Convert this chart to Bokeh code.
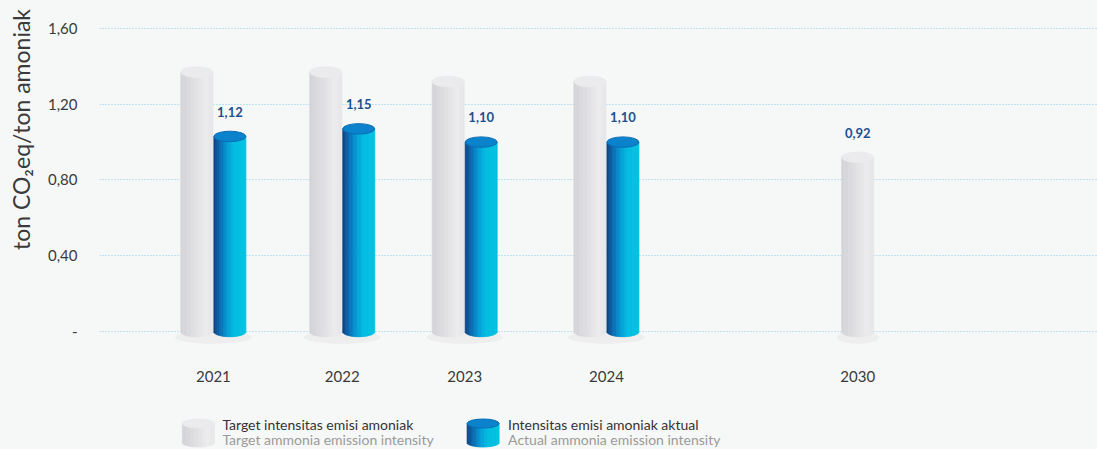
import math
from bokeh.plotting import figure
from bokeh.models import Range1d, FixedTicker
from bokeh.layouts import column, row
from bokeh.core.properties import value
from bokeh.embed import file_html
from bokeh.resources import INLINE

# ---------------- data ----------------
years = ["2021", "2022", "2023", "2024", "2030"]
target_values = [1.37, 1.37, 1.32, 1.32, 0.92]          # grey cylinders (as drawn)
actual_years = ["2021", "2022", "2023", "2024"]
actual_values = [1.03, 1.07, 1.00, 1.00]                 # blue cylinders (as drawn)
actual_labels = [1.12, 1.15, 1.10, 1.10]                 # printed values
target_label_years = ["2030"]
target_labels = [0.92]
y_ticks = [0.0, 0.4, 0.8, 1.2, 1.6]
y_tick_labels = ["-", "0,40", "0,80", "1,20", "1,60"]
y_title = "ton CO\u2082eq/ton amoniak"
legend_main = ["Target intensitas emisi amoniak", "Intensitas emisi amoniak aktual"]
legend_sub = ["Target ammonia emission intensity", "Actual ammonia emission intensity"]

# ---------------- layout constants ----------------
slot = {"2021": 0.0, "2022": 1.0, "2023": 1.95, "2024": 3.05, "2030": 5.0}
FONT = "Lato"
BG = "#f6f8f7"
W_TOTAL, H_MAIN, H_LEG = 1097, 396, 53
W_Y = 44
W = W_TOTAL - W_Y
LEFT = 98
BL = LEFT - W_Y
UNIT_X = 129.0
UNIT_Y = 189.4
ZERO_Y = 331
X0 = -(212 - LEFT) / UNIT_X
BAR_W = 0.248
OFFSET = 0.128
ELL_H = 0.055
N_STRIPS = 24

def hex2rgb(h):
    h = h.lstrip("#")
    return tuple(int(h[i:i + 2], 16) for i in (0, 2, 4))

def grad(stops, t):
    for (t0, c0), (t1, c1) in zip(stops, stops[1:]):
        if t0 <= t <= t1:
            f = 0 if t1 == t0 else (t - t0) / (t1 - t0)
            a, b = hex2rgb(c0), hex2rgb(c1)
            return "#%02x%02x%02x" % tuple(round(a[i] + (b[i] - a[i]) * f) for i in range(3))
    return stops[-1][1]

GREY_STOPS = [(0, "#d3d3d7"), (0.35, "#dddde0"), (0.8, "#ececee"), (1, "#e6e6e8")]
BLUE_STOPS = [(0, "#0c3f7e"), (0.18, "#0b66ad"), (0.45, "#049fd8"), (0.65, "#00bce0"), (1, "#00c2e2")]
GREY_TOP, BLUE_TOP = "#ebebed", "#0a82cc"
BLUE_RIM = "#0a6db5"

def cylinder(fig, xc, top, bottom, width, ell_h, stops, top_color, rim=None):
    a = width / 2.0
    b = ell_h / 2.0
    L, R, B, T, C = [], [], [], [], []
    for i in range(N_STRIPS):
        x0 = -a + width * i / N_STRIPS
        x1 = -a + width * (i + 1) / N_STRIPS
        xm = (x0 + x1) / 2.0
        drop = b * math.sqrt(max(0.0, 1 - (xm / a) ** 2))
        L.append(xc + x0)
        R.append(xc + x1)
        B.append(bottom - drop)
        T.append(top)
        C.append(grad(stops, (i + 0.5) / N_STRIPS))
    fig.quad(left=L, right=R, bottom=B, top=T, fill_color=C, line_color=C, line_width=0.8)
    fig.ellipse(x=[xc], y=[top], width=width, height=ell_h,
                fill_color=top_color, line_color=rim if rim else top_color, line_width=1)

# ---------------- main figure ----------------
p = figure(width=W, height=H_MAIN, output_backend="svg", toolbar_location=None,
           x_range=Range1d(X0, X0 + (W_TOTAL - LEFT) / UNIT_X),
           y_range=Range1d(-(346 - ZERO_Y) / UNIT_Y, (ZERO_Y - 13) / UNIT_Y),
           min_border_left=BL, min_border_right=0, min_border_top=13, min_border_bottom=50,
           background_fill_color=BG, border_fill_color=BG, outline_line_color=None)

p.xgrid.visible = False
p.ygrid.ticker = FixedTicker(ticks=y_ticks)
p.ygrid.grid_line_color = "#8ecdf0"
p.ygrid.grid_line_dash = "1 2"
p.ygrid.grid_line_width = 1

p.yaxis.ticker = FixedTicker(ticks=y_ticks)
p.yaxis.major_label_overrides = dict(zip(y_ticks, y_tick_labels))
p.yaxis.axis_line_color = None
p.yaxis.major_tick_line_color = None
p.yaxis.minor_tick_line_color = None
p.yaxis.major_label_standoff = 16
p.yaxis.major_label_text_font = FONT
p.yaxis.major_label_text_font_size = "15px"
p.yaxis.major_label_text_color = "#3a3a3a"

x_ticks = [slot[y] for y in years]
p.xaxis.ticker = FixedTicker(ticks=x_ticks)
p.xaxis.major_label_overrides = dict(zip(x_ticks, years))
p.xaxis.axis_line_color = None
p.xaxis.major_tick_line_color = None
p.xaxis.minor_tick_line_color = None
p.xaxis.major_label_standoff = 18
p.xaxis.major_label_text_font = FONT
p.xaxis.major_label_text_font_size = "15px"
p.xaxis.major_label_text_color = "#3a3a3a"

tx = [slot[y] - (OFFSET if y in actual_years else 0.0) for y in years]
ax = [slot[y] + OFFSET for y in actual_years]

p.ellipse(x=[sum(pair) / 2 for pair in zip(tx[:4], ax)], y=-0.03, width=BAR_W * 2.4, height=0.07,
          fill_color="#9a9a9a", fill_alpha=0.10, line_color=None)
p.ellipse(x=[tx[4]], y=-0.03, width=BAR_W * 1.3, height=0.07,
          fill_color="#9a9a9a", fill_alpha=0.10, line_color=None)

for xc, v in zip(tx, target_values):
    cylinder(p, xc, v, 0.0, BAR_W, ELL_H, GREY_STOPS, GREY_TOP)
for xc, v in zip(ax, actual_values):
    cylinder(p, xc, v, 0.0, BAR_W, ELL_H, BLUE_STOPS, BLUE_TOP, BLUE_RIM)

LBL_OFF = 0.13
p.text(x=ax, y=[v + LBL_OFF for v in actual_values],
       text=[("%.2f" % v).replace(".", ",") for v in actual_labels],
       text_align="center", text_baseline="middle",
       text_font=value(FONT), text_font_style="bold", text_font_size="13px", text_color="#1e4f8e")
t_idx = [years.index(y) for y in target_label_years]
p.text(x=[tx[i] for i in t_idx], y=[target_values[i] + LBL_OFF for i in t_idx],
       text=[("%.2f" % v).replace(".", ",") for v in target_labels],
       text_align="center", text_baseline="middle",
       text_font=value(FONT), text_font_style="bold", text_font_size="13px", text_color="#1e4f8e")

# ---------------- y-title strip (pixel coordinates) ----------------
yf = figure(width=W_Y, height=H_MAIN, output_backend="svg", toolbar_location=None,
            x_axis_location=None, y_axis_location=None,
            x_range=Range1d(0, W_Y), y_range=Range1d(0, H_MAIN),
            min_border=0, background_fill_color=BG, border_fill_color=BG, outline_line_color=None)
yf.grid.visible = False
yf.text(x=[20], y=[H_MAIN - 129], text=[y_title], angle=math.pi / 2,
        text_align="center", text_baseline="middle",
        text_font=value(FONT), text_font_size="23px", text_color="#3a3a3a")

# ---------------- legend figure (pixel coordinates) ----------------
lg = figure(width=W, height=H_LEG, output_backend="svg", toolbar_location=None,
            x_axis_location=None, y_axis_location=None,
            x_range=Range1d(LEFT, W_TOTAL), y_range=Range1d(0, H_LEG),
            min_border=0, min_border_left=BL, min_border_right=0,
            background_fill_color=BG, border_fill_color=BG, outline_line_color=None)
lg.grid.visible = False

cylinder(lg, 197, 26, 7, 32, 9, GREY_STOPS, GREY_TOP)
cylinder(lg, 482, 26, 7, 32, 9, BLUE_STOPS, BLUE_TOP, BLUE_RIM)
lg.text(x=[221, 507], y=[25, 25], text=legend_main,
        text_baseline="middle", text_font=value(FONT), text_font_size="14px", text_color="#333333")
lg.text(x=[221, 507], y=[10, 10], text=legend_sub,
        text_baseline="middle", text_font=value(FONT), text_font_size="14px", text_color="#9a9a9a")

ystrip = column(yf, spacing=0)
layout = row(ystrip, column(p, lg, spacing=0), spacing=0, styles={"background-color": BG})
open("out.html", "w").write(file_html(layout, INLINE))
